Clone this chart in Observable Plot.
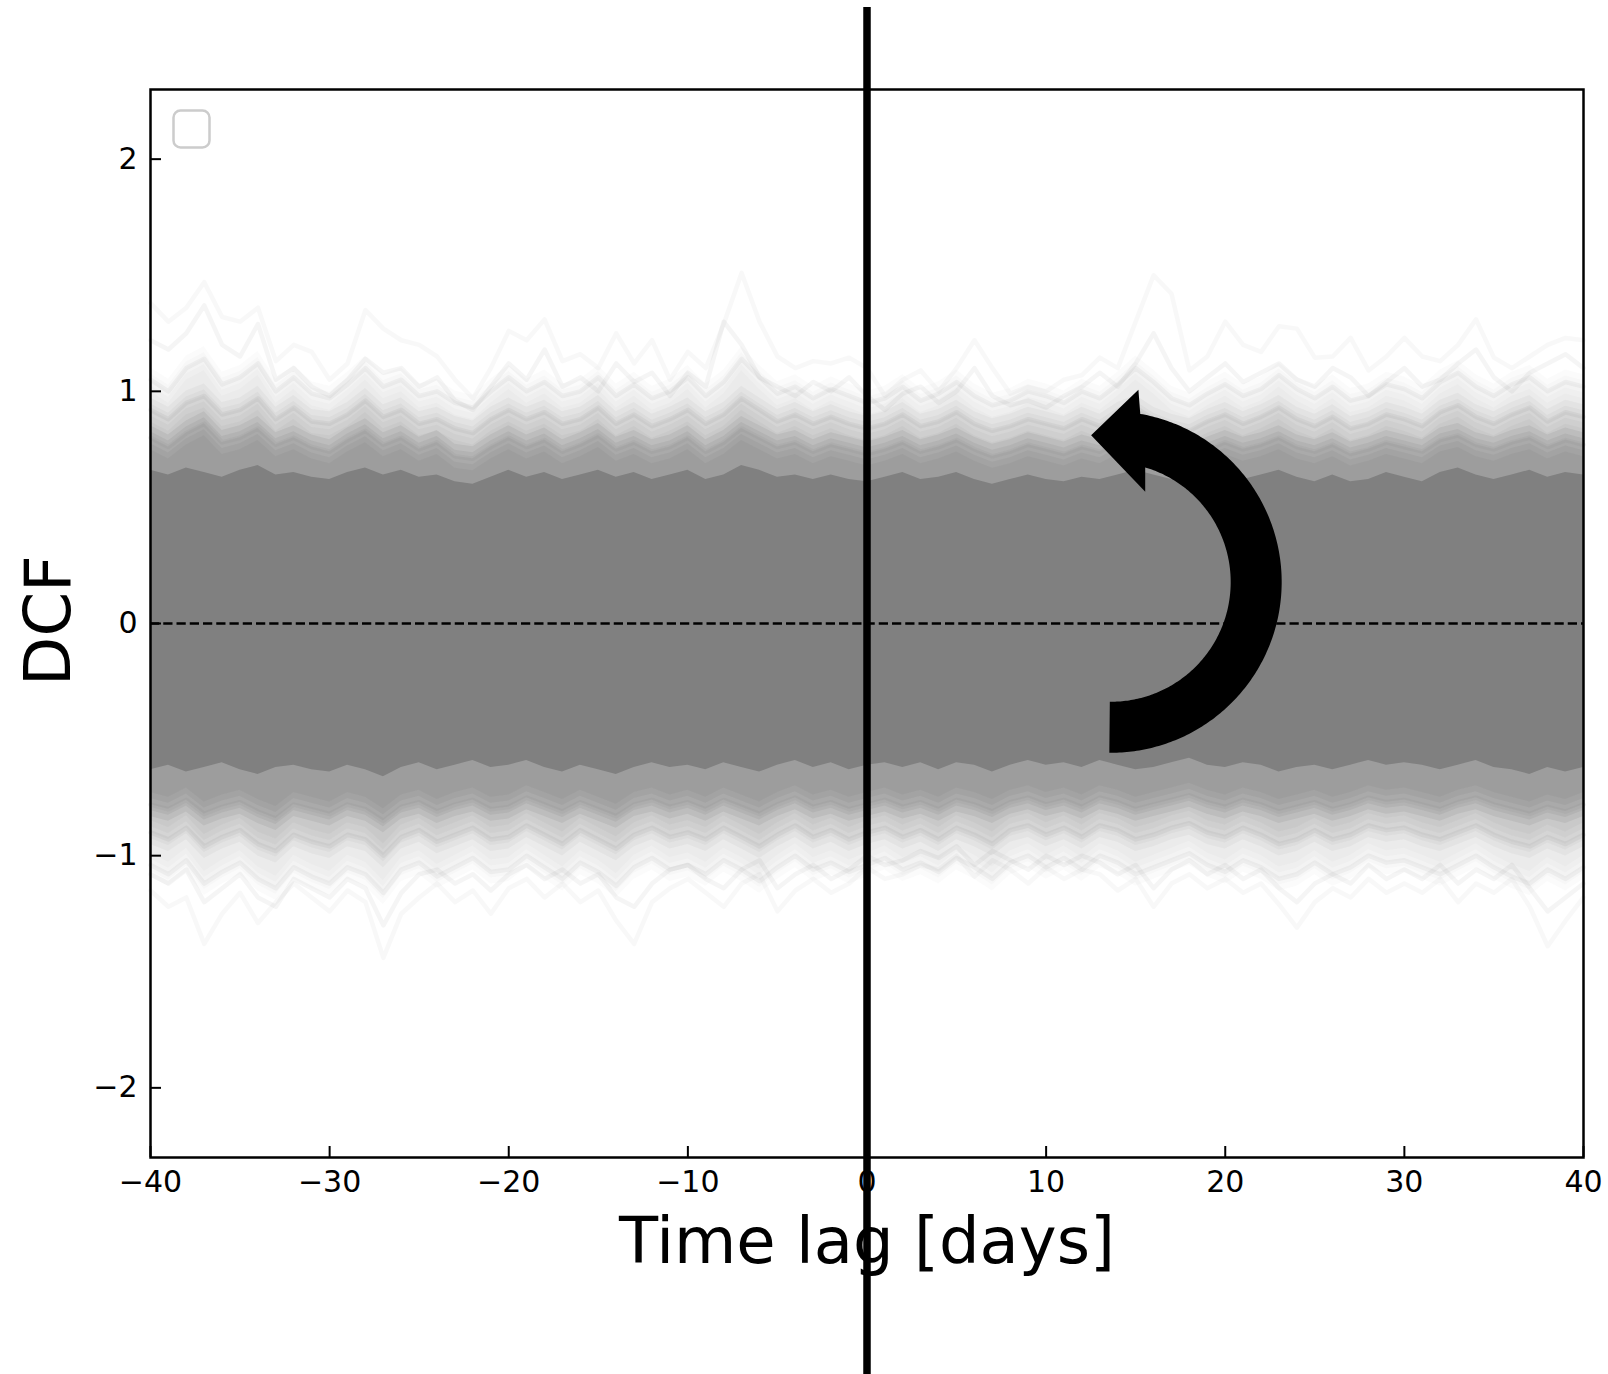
<!DOCTYPE html>
<html><head><meta charset="utf-8">
<script src="https://cdn.jsdelivr.net/npm/d3@7"></script>
<script src="https://cdn.jsdelivr.net/npm/@observablehq/plot@0.6"></script>
<style>html,body{margin:0;padding:0;background:#fff;overflow:hidden}</style>
</head><body><div id="chart"></div>
<script>
// ---- data ----
const lags = d3.range(-40, 41);            // time lag [days]
const xTicks = [-40, -30, -20, -10, 0, 10, 20, 30, 40];
const yTicks = [-2, -1, 0, 1, 2];
const xLabel = "Time lag [days]";
const yLabel = "DCF";

// envelopes of the simulated DCF curves (upper side)
const upperSolid = [0.66,0.64,0.67,0.65,0.63,0.66,0.68,0.64,0.65,0.63, 0.62,0.65,0.67,0.64,0.66,0.63,0.64,0.61,0.60,0.63, 0.66,0.63,0.65,0.62,0.64,0.66,0.63,0.65,0.62,0.64, 0.66,0.62,0.64,0.68,0.66,0.63,0.64,0.62,0.64,0.62, 0.61,0.63,0.65,0.62,0.63,0.65,0.62,0.60,0.62,0.64, 0.62,0.61,0.63,0.62,0.64,0.66,0.64,0.62,0.60,0.63, 0.65,0.62,0.64,0.66,0.63,0.61,0.64,0.61,0.62,0.65, 0.63,0.61,0.65,0.67,0.64,0.62,0.64,0.66,0.63,0.65, 0.64];
const upperDense = [0.80,0.76,0.82,0.86,0.78,0.80,0.84,0.77,0.80,0.76, 0.74,0.79,0.83,0.77,0.80,0.75,0.78,0.72,0.71,0.76, 0.80,0.76,0.79,0.74,0.77,0.81,0.75,0.78,0.74,0.76, 0.80,0.74,0.78,0.84,0.80,0.76,0.78,0.74,0.77,0.75, 0.73,0.75,0.78,0.74,0.76,0.79,0.75,0.72,0.74,0.77, 0.75,0.73,0.76,0.74,0.78,0.80,0.76,0.74,0.72,0.75, 0.78,0.75,0.77,0.80,0.76,0.74,0.77,0.73,0.75,0.78, 0.76,0.74,0.79,0.81,0.77,0.75,0.78,0.80,0.76,0.79, 0.77];
const upperMid = [0.92,0.88,0.95,0.98,0.90,0.92,0.97,0.88,0.93,0.87, 0.86,0.90,0.96,0.89,0.92,0.86,0.88,0.84,0.82,0.88, 0.92,0.88,0.91,0.86,0.88,0.93,0.86,0.90,0.85,0.88, 0.92,0.86,0.90,0.97,0.92,0.87,0.90,0.86,0.89,0.86, 0.84,0.86,0.90,0.85,0.87,0.91,0.86,0.83,0.85,0.88, 0.86,0.84,0.88,0.85,0.90,0.93,0.88,0.85,0.83,0.87, 0.90,0.86,0.89,0.93,0.88,0.85,0.89,0.84,0.86,0.90, 0.88,0.85,0.91,0.94,0.89,0.86,0.90,0.93,0.87,0.91, 0.89];
const upperLight = [1.05,1.00,1.10,1.14,1.03,1.06,1.12,1.00,1.06,0.99, 0.97,1.03,1.10,1.02,1.05,0.98,1.00,0.95,0.93,1.00, 1.06,1.00,1.04,0.98,1.00,1.06,0.98,1.03,0.97,1.00, 1.06,0.98,1.04,1.14,1.06,0.99,1.02,0.97,1.01,0.98, 0.95,0.97,1.02,0.96,0.99,1.04,0.98,0.94,0.96,1.00, 0.98,0.95,1.00,0.97,1.03,1.10,1.04,0.97,0.94,0.99, 1.03,0.98,1.01,1.07,1.01,0.97,1.02,0.96,0.98,1.03, 1.01,0.97,1.04,1.08,1.02,0.98,1.03,1.06,1.00,1.04, 1.02];
const upperMax = [1.38,1.30,1.36,1.47,1.32,1.30,1.36,1.13,1.20,1.17, 1.05,1.12,1.35,1.27,1.22,1.20,1.15,1.05,0.97,1.10, 1.26,1.22,1.31,1.13,1.16,1.10,1.25,1.12,1.22,1.05, 1.17,1.10,1.29,1.51,1.30,1.15,1.10,1.13,1.12,1.145, 1.10,0.98,1.05,1.09,1.00,1.10,1.22,1.10,0.99,1.02, 1.00,1.05,1.07,1.145,1.10,1.30,1.50,1.42,1.09,1.15, 1.30,1.20,1.17,1.28,1.27,1.145,1.15,1.23,1.09,1.15, 1.23,1.15,1.13,1.20,1.31,1.145,1.10,1.15,1.20,1.23, 1.22];
const upperSecond = [1.22,1.18,1.25,1.37,1.20,1.15,1.29,1.05,1.10,1.02, 0.98,1.05,1.14,1.08,1.10,1.02,1.06,0.96,0.92,1.02, 1.12,1.05,1.18,1.02,1.06,1.00,1.12,1.04,1.08,0.98, 1.08,1.02,1.30,1.20,1.06,1.02,0.98,1.04,1.00,1.06, 0.98,0.92,0.99,1.02,0.95,1.00,1.10,0.98,0.94,0.96, 0.93,0.98,1.02,1.08,1.02,1.12,1.25,1.10,1.00,1.06, 1.12,1.04,1.08,1.12,1.05,1.02,1.10,1.06,0.98,1.04, 1.10,1.02,1.05,1.12,1.18,1.06,1.00,1.08,1.12,1.16, 1.10];

// envelopes (lower side)
const lowerSolid = [-0.63,-0.61,-0.64,-0.62,-0.60,-0.63,-0.65,-0.62,-0.61,-0.63, -0.64,-0.61,-0.63,-0.66,-0.62,-0.60,-0.63,-0.61,-0.59,-0.62, -0.61,-0.59,-0.62,-0.64,-0.61,-0.63,-0.65,-0.62,-0.60,-0.62, -0.61,-0.63,-0.60,-0.62,-0.64,-0.61,-0.59,-0.62,-0.60,-0.63, -0.61,-0.60,-0.62,-0.60,-0.63,-0.60,-0.61,-0.64,-0.61,-0.59, -0.61,-0.60,-0.62,-0.59,-0.61,-0.63,-0.62,-0.60,-0.58,-0.61, -0.62,-0.60,-0.61,-0.64,-0.62,-0.61,-0.63,-0.61,-0.59,-0.61, -0.60,-0.61,-0.63,-0.61,-0.59,-0.62,-0.63,-0.65,-0.62,-0.64, -0.62];
const lowerDense = [-0.78,-0.80,-0.76,-0.82,-0.79,-0.77,-0.81,-0.84,-0.78,-0.80, -0.82,-0.78,-0.80,-0.85,-0.79,-0.77,-0.81,-0.78,-0.76,-0.80, -0.79,-0.75,-0.78,-0.81,-0.77,-0.80,-0.83,-0.78,-0.76,-0.79, -0.77,-0.80,-0.76,-0.79,-0.82,-0.78,-0.75,-0.79,-0.77,-0.80, -0.78,-0.76,-0.79,-0.77,-0.80,-0.76,-0.78,-0.81,-0.77,-0.75, -0.78,-0.76,-0.79,-0.75,-0.77,-0.80,-0.78,-0.76,-0.74,-0.77, -0.79,-0.76,-0.78,-0.81,-0.79,-0.77,-0.80,-0.78,-0.75,-0.77, -0.76,-0.78,-0.80,-0.77,-0.75,-0.78,-0.80,-0.82,-0.79,-0.81, -0.78];
const lowerMid = [-0.90,-0.93,-0.88,-0.96,-0.92,-0.89,-0.95,-0.98,-0.91,-0.94, -0.96,-0.91,-0.93,-1.00,-0.92,-0.89,-0.94,-0.91,-0.88,-0.93, -0.92,-0.87,-0.91,-0.95,-0.89,-0.93,-0.97,-0.91,-0.88,-0.92, -0.90,-0.93,-0.88,-0.92,-0.96,-0.91,-0.87,-0.92,-0.89,-0.93, -0.90,-0.88,-0.92,-0.89,-0.93,-0.88,-0.91,-0.95,-0.89,-0.87, -0.91,-0.88,-0.92,-0.87,-0.89,-0.93,-0.91,-0.88,-0.86,-0.90, -0.92,-0.88,-0.91,-0.95,-0.93,-0.89,-0.93,-0.91,-0.87,-0.89, -0.88,-0.91,-0.93,-0.90,-0.87,-0.91,-0.94,-0.96,-0.92,-0.95, -0.91];
const lowerLight = [-1.04,-1.08,-1.02,-1.12,-1.07,-1.03,-1.10,-1.14,-1.05,-1.09, -1.12,-1.05,-1.08,-1.16,-1.06,-1.03,-1.09,-1.05,-1.01,-1.07, -1.06,-1.00,-1.05,-1.10,-1.03,-1.07,-1.13,-1.05,-1.01,-1.06, -1.04,-1.08,-1.02,-1.06,-1.11,-1.05,-1.00,-1.06,-1.03,-1.07, -1.04,-1.01,-1.06,-1.03,-1.07,-1.01,-1.05,-1.10,-1.03,-1.00, -1.05,-1.01,-1.06,-1.00,-1.03,-1.08,-1.05,-1.02,-0.99,-1.04, -1.07,-1.02,-1.05,-1.10,-1.08,-1.03,-1.08,-1.05,-1.00,-1.03, -1.02,-1.05,-1.08,-1.04,-1.00,-1.05,-1.09,-1.12,-1.06,-1.10, -1.05];
const lowerMin = [-1.15,-1.22,-1.18,-1.38,-1.25,-1.16,-1.29,-1.20,-1.12,-1.18, -1.24,-1.15,-1.20,-1.44,-1.25,-1.18,-1.12,-1.20,-1.15,-1.25, -1.14,-1.10,-1.18,-1.12,-1.20,-1.15,-1.28,-1.38,-1.20,-1.14, -1.10,-1.16,-1.22,-1.12,-1.08,-1.24,-1.15,-1.10,-1.16,-1.12, -1.05,-1.10,-1.08,-1.04,-1.06,-1.00,-1.09,-1.02,-1.06,-1.12, -1.05,-1.10,-1.06,-1.08,-1.15,-1.10,-1.22,-1.12,-1.08,-1.14, -1.10,-1.16,-1.12,-1.21,-1.31,-1.20,-1.14,-1.18,-1.10,-1.16, -1.12,-1.16,-1.10,-1.20,-1.12,-1.16,-1.10,-1.22,-1.39,-1.28, -1.18];
const lowerSecond = [-1.08,-1.12,-1.06,-1.20,-1.14,-1.08,-1.18,-1.22,-1.10,-1.14, -1.18,-1.10,-1.14,-1.30,-1.16,-1.08,-1.06,-1.12,-1.08,-1.15, -1.08,-1.04,-1.10,-1.06,-1.12,-1.08,-1.18,-1.22,-1.12,-1.06, -1.04,-1.10,-1.14,-1.06,-1.02,-1.14,-1.08,-1.04,-1.10,-1.06, -1.00,-1.04,-1.02,-0.98,-1.01,-0.96,-1.04,-0.98,-1.02,-1.06, -1.00,-1.04,-1.00,-1.03,-1.08,-1.04,-1.14,-1.06,-1.02,-1.08, -1.04,-1.10,-1.06,-1.14,-1.20,-1.12,-1.08,-1.12,-1.04,-1.10, -1.06,-1.10,-1.04,-1.12,-1.06,-1.10,-1.04,-1.14,-1.24,-1.18, -1.12];

// curved annotation arrow (data coords): tail, outermost point, head base, tip, head barbs
const arrowKnots = [
  {lag: 13.57, dcf: -0.449},
  {lag: 21.75, dcf: 0.198},
  {lag: 15.39, dcf: 0.787},
  {lag: 12.54, dcf: 0.809},
  {lag: 15.18, dcf: 1.005},
  {lag: 15.56, dcf: 0.565}
];

// ---- layout ----
const W = 1608, H = 1374;
const M = {top: 89, right: 25, bottom: 217, left: 150};
const FW = W - M.left - M.right, FH = H - M.top - M.bottom;
const BAND = "#808080";
const fmt = d => d < 0 ? "\u2212" + Math.abs(d) : String(d);

const table = lags.map((lag, i) => ({
  lag,
  u0: upperSolid[i], u1: upperDense[i], u2: upperMid[i], u3: upperLight[i],
  l0: lowerSolid[i], l1: lowerDense[i], l2: lowerMid[i], l3: lowerLight[i],
  uMax: upperMax[i], uSec: upperSecond[i], lMin: lowerMin[i], lSec: lowerSecond[i]
}));

function arrowMark(index, scales) {
  const P = arrowKnots.map(d => [scales.x(d.lag), scales.y(d.dcf)]);
  const [p1, p2, p3, tip, barbOut, barbIn] = P;
  const [ax, ay] = p1, [bx, by] = p2, [cx, cy] = p3;
  const dd = 2 * (ax * (by - cy) + bx * (cy - ay) + cx * (ay - by));
  const ux = ((ax*ax + ay*ay) * (by - cy) + (bx*bx + by*by) * (cy - ay) + (cx*cx + cy*cy) * (ay - by)) / dd;
  const uy = ((ax*ax + ay*ay) * (cx - bx) + (bx*bx + by*by) * (ax - cx) + (cx*cx + cy*cy) * (bx - ax)) / dd;
  const R = Math.hypot(ax - ux, ay - uy);
  const a1 = Math.atan2(ay - uy, ax - ux);
  const a2 = Math.atan2(by - uy, bx - ux);
  const a3 = Math.atan2(cy - uy, cx - ux);
  const norm = v => { while (v > 0) v -= 2 * Math.PI; while (v <= -2 * Math.PI) v += 2 * Math.PI; return v; };
  let s = norm(a3 - a1);
  const t = norm(a2 - a1);
  if (t < s) s += 2 * Math.PI;
  const hw = 25.5, N = 200;
  const side = p => (barbIn[0] - barbOut[0]) * (p[1] - barbOut[1]) - (barbIn[1] - barbOut[1]) * (p[0] - barbOut[0]);
  const tipSide = Math.sign(side(tip));
  function arc(r) {
    const pts = [];
    for (let k = 0; k <= N * 1.3; k++) {
      const a = a1 + s * k / N;
      const p = [ux + r * Math.cos(a), uy + r * Math.sin(a)];
      if (k > N / 2 && Math.sign(side(p)) === tipSide) break;
      pts.push(p);
    }
    return pts;
  }
  const outer = arc(R + hw), inner = arc(R - hw);
  const pts = [...outer, barbOut, tip, barbIn, ...inner.reverse()];
  const path = document.createElementNS("http://www.w3.org/2000/svg", "path");
  path.setAttribute("d", "M" + pts.map(p => p[0].toFixed(2) + "," + p[1].toFixed(2)).join("L") + "Z");
  path.setAttribute("fill", "black");
  return path;
}

const lineStyle = {x: "lag", stroke: BAND, strokeWidth: 4.5, strokeLinejoin: "round"};

// a density layer softened by stacking vertically offset copies
const spread = [-12, -6, 0, 6, 12];
function fadeLayer(lo, hi, alpha) {
  const b = 1 - Math.pow(1 - alpha, 1 / spread.length);
  return spread.map(dy => Plot.areaY(table, {x: "lag", y1: lo, y2: hi, fill: BAND, fillOpacity: b, dy}));
}

const chart = Plot.plot({
  width: W, height: H,
  marginTop: M.top, marginRight: M.right, marginBottom: M.bottom, marginLeft: M.left,
  x: {domain: [-40, 40]},
  y: {domain: [-2.3, 2.3]},
  style: {fontFamily: "DejaVu Sans", fontSize: "30px", background: "white", color: "black", overflow: "visible"},
  marks: [
    // faint outlying curves
    Plot.line(table, {...lineStyle, y: "uMax", strokeOpacity: 0.055}),
    Plot.line(table, {...lineStyle, y: "uSec", strokeOpacity: 0.08}),
    Plot.line(table, {...lineStyle, y: "lMin", strokeOpacity: 0.055}),
    Plot.line(table, {...lineStyle, y: "lSec", strokeOpacity: 0.08}),
    // density layers
    ...fadeLayer("l3", "u3", 0.16),
    ...fadeLayer("l2", "u2", 0.32),
    ...fadeLayer("l1", "u1", 0.6),
    // curve texture at the envelopes
    Plot.line(table, {...lineStyle, y: "u3", strokeOpacity: 0.08}),
    Plot.line(table, {...lineStyle, y: "l3", strokeOpacity: 0.08}),
    Plot.line(table, {...lineStyle, y: "u2", strokeOpacity: 0.1}),
    Plot.line(table, {...lineStyle, y: "l2", strokeOpacity: 0.1}),
    Plot.line(table, {...lineStyle, y: "u1", strokeOpacity: 0.12}),
    Plot.line(table, {...lineStyle, y: "l1", strokeOpacity: 0.12}),
    // saturated core
    Plot.areaY(table, {x: "lag", y1: "l0", y2: "u0", fill: BAND}),
    // zero line
    Plot.ruleY([0], {stroke: "black", strokeWidth: 2.5, strokeDasharray: "9.25,4"}),
    // inward ticks
    Plot.ruleX(xTicks, {insetTop: FH - 11, stroke: "black", strokeWidth: 2}),
    Plot.ruleY(yTicks, {insetRight: FW - 11, stroke: "black", strokeWidth: 2}),
    Plot.axisX(xTicks, {tickSize: 0, tickPadding: 13, tickFormat: fmt, label: null, fontSize: 30}),
    Plot.axisY(yTicks, {tickSize: 0, tickPadding: 13, tickFormat: fmt, label: null, fontSize: 30}),
    Plot.frame({stroke: "black", strokeWidth: 2.5}),
    // empty legend box
    Plot.frame({stroke: "#cccccc", strokeWidth: 2.5, rx: 7, insetLeft: 23, insetTop: 21, insetRight: FW - 59, insetBottom: FH - 58}),
    // axis titles
    Plot.text([xLabel], {frameAnchor: "bottom", dy: 85.5, fontSize: 64, lineAnchor: "middle", textAnchor: "middle"}),
    Plot.text([yLabel], {frameAnchor: "left", rotate: -90, dx: -100.5, dy: -3, fontSize: 64, lineAnchor: "middle", textAnchor: "middle"}),
    // curved arrow
    arrowMark,
    // vertical line at zero lag
    Plot.ruleX([0], {stroke: "black", strokeWidth: 7.5, insetTop: -(M.top - 7), insetBottom: -M.bottom})
  ]
});
document.getElementById("chart").appendChild(chart);
</script>
</body></html>
